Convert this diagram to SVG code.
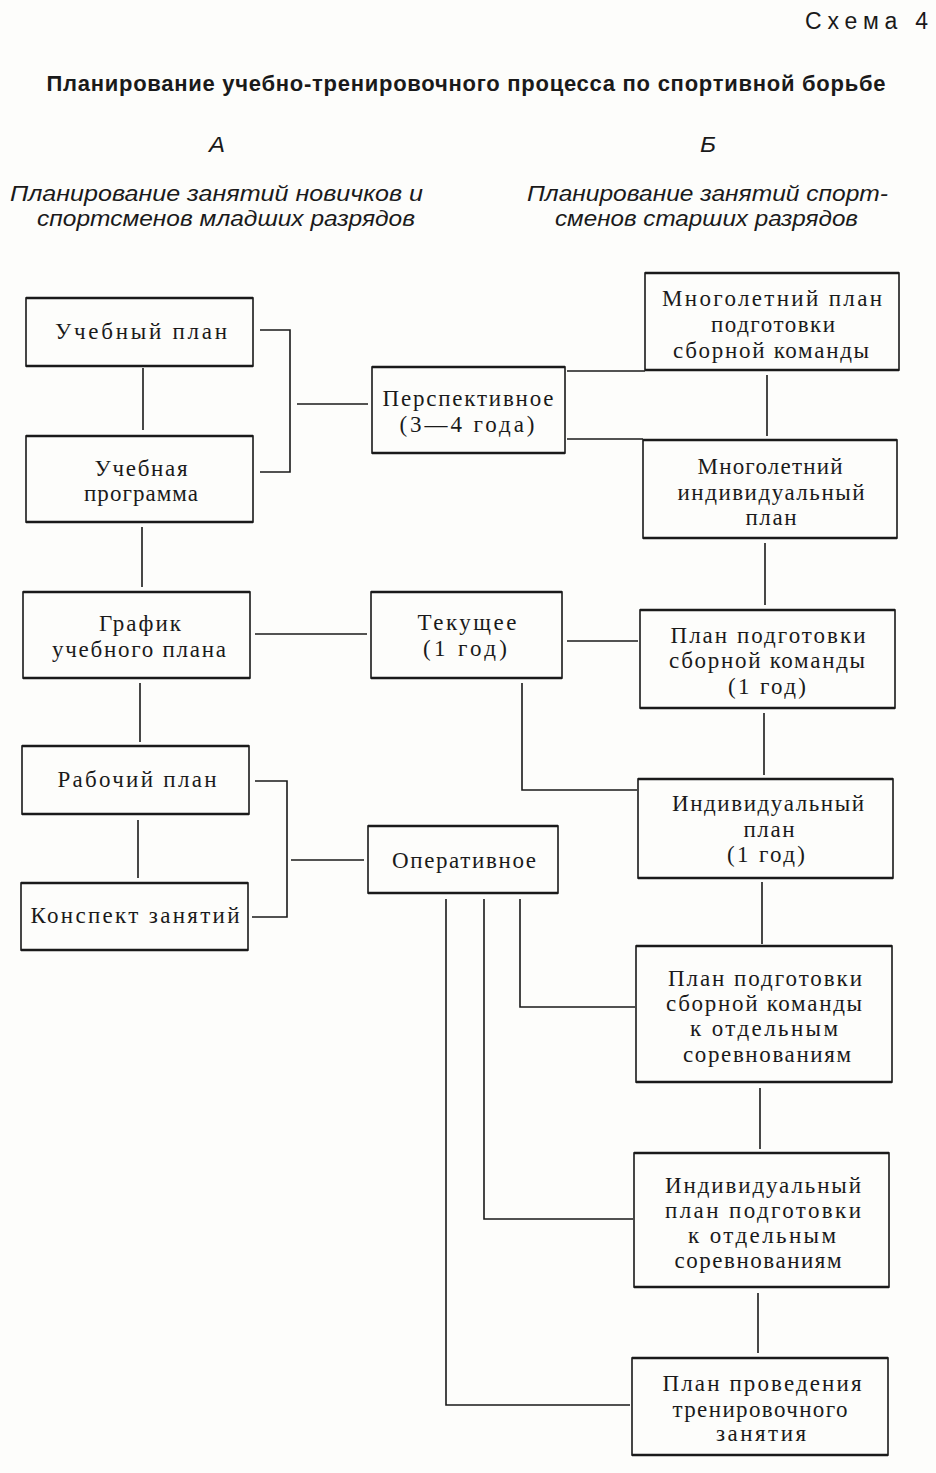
<svg xmlns="http://www.w3.org/2000/svg" width="936" height="1473" viewBox="0 0 936 1473">
<style>
.bg{fill:#fdfdfb}
.box{fill:none;stroke:#1a1a1a;stroke-width:1.6}
.edge{fill:none;stroke:#1a1a1a;stroke-width:2.4}
.con{fill:none;stroke:#1a1a1a;stroke-width:1.6}
.t{font-family:"Liberation Serif","DejaVu Serif",serif;font-size:23px;fill:#1a1a1a;text-anchor:middle}
.h{font-family:"Liberation Sans","DejaVu Sans",sans-serif;fill:#1a1a1a}
.it{font-family:"Liberation Sans","DejaVu Sans",sans-serif;font-style:italic;font-size:22px;fill:#1a1a1a}
</style>
<rect class="bg" x="0" y="0" width="936" height="1473"/>

<g id="header">
<text class="h" x="805" y="29" font-size="23" textLength="123" lengthAdjust="spacing">Схема 4</text>
<text class="h" x="466" y="91" font-size="22" font-weight="bold" text-anchor="middle" textLength="839" lengthAdjust="spacing">Планирование учебно-тренировочного процесса по спортивной борьбе</text>
<text class="it" x="209" y="152" font-size="24" textLength="16" lengthAdjust="spacingAndGlyphs">А</text>
<text class="it" x="700" y="152" font-size="24" textLength="16" lengthAdjust="spacingAndGlyphs">Б</text>
<text class="it" x="10" y="201" textLength="413" lengthAdjust="spacingAndGlyphs">Планирование занятий новичков и</text>
<text class="it" x="37" y="226" textLength="378" lengthAdjust="spacingAndGlyphs">спортсменов младших разрядов</text>
<text class="it" x="527" y="201" textLength="361" lengthAdjust="spacingAndGlyphs">Планирование занятий спорт-</text>
<text class="it" x="555" y="226" textLength="303" lengthAdjust="spacingAndGlyphs">сменов старших разрядов</text>
</g>

<g id="connectors">
<path class="con" d="M143,368 V430"/>
<path class="con" d="M142,527 V587"/>
<path class="con" d="M140,683 V742"/>
<path class="con" d="M138,820 V878"/>
<path class="con" d="M260,330 H290 V472 H260"/>
<path class="con" d="M297,404 H368"/>
<path class="con" d="M255,634 H367"/>
<path class="con" d="M567,371 H645"/>
<path class="con" d="M767,375 V436"/>
<path class="con" d="M567,439 H643"/>
<path class="con" d="M765,543 V605"/>
<path class="con" d="M567,641 H638"/>
<path class="con" d="M764,713 V775"/>
<path class="con" d="M522,683 V790 H637"/>
<path class="con" d="M762,882 V944"/>
<path class="con" d="M255,781 H287 V917 H252"/>
<path class="con" d="M291,860 H364"/>
<path class="con" d="M520,899 V1007 H635"/>
<path class="con" d="M484,899 V1219 H633"/>
<path class="con" d="M446,899 V1405 H630"/>
<path class="con" d="M760,1088 V1149"/>
<path class="con" d="M758,1293 V1353"/>
</g>

<g id="n-uchebny-plan">
<rect class="box" x="26" y="298" width="227" height="68"/>
<path class="edge" d="M26,298 H253 M26,366 H253"/>
<text class="t" x="141" y="339" textLength="172" lengthAdjust="spacing">Учебный  план</text>
</g>
<g id="n-uchebnaya-programma">
<rect class="box" x="26" y="436" width="227" height="86"/>
<path class="edge" d="M26,436 H253 M26,522 H253"/>
<text class="t" x="141" y="476" textLength="93" lengthAdjust="spacing">Учебная</text>
<text class="t" x="141" y="501" textLength="114" lengthAdjust="spacing">программа</text>
</g>
<g id="n-grafik">
<rect class="box" x="23" y="592" width="227" height="86"/>
<path class="edge" d="M23,592 H250 M23,678 H250"/>
<text class="t" x="140" y="631" textLength="82" lengthAdjust="spacing">График</text>
<text class="t" x="139" y="657" textLength="174" lengthAdjust="spacing">учебного  плана</text>
</g>
<g id="n-rabochy-plan">
<rect class="box" x="22" y="746" width="227" height="68"/>
<path class="edge" d="M22,746 H249 M22,814 H249"/>
<text class="t" x="137" y="787" textLength="159" lengthAdjust="spacing">Рабочий  план</text>
</g>
<g id="n-konspekt">
<rect class="box" x="21" y="883" width="227" height="67"/>
<path class="edge" d="M21,883 H248 M21,950 H248"/>
<text class="t" x="135" y="923" textLength="209" lengthAdjust="spacing">Конспект  занятий</text>
</g>

<g id="n-perspektivnoe">
<rect class="box" x="372" y="367" width="193" height="86"/>
<path class="edge" d="M372,367 H565 M372,453 H565"/>
<text class="t" x="468" y="406" textLength="171" lengthAdjust="spacing">Перспективное</text>
<text class="t" x="467" y="432" textLength="135" lengthAdjust="spacing">(3—4  года)</text>
</g>
<g id="n-tekushchee">
<rect class="box" x="371" y="592" width="191" height="86"/>
<path class="edge" d="M371,592 H562 M371,678 H562"/>
<text class="t" x="467" y="630" textLength="99" lengthAdjust="spacing">Текущее</text>
<text class="t" x="465" y="656" textLength="84" lengthAdjust="spacing">(1  год)</text>
</g>
<g id="n-operativnoe">
<rect class="box" x="368" y="826" width="190" height="67"/>
<path class="edge" d="M368,826 H558 M368,893 H558"/>
<text class="t" x="464" y="868" textLength="144" lengthAdjust="spacing">Оперативное</text>
</g>

<g id="n-mnogoletny-plan">
<rect class="box" x="645" y="273" width="254" height="97"/>
<path class="edge" d="M645,273 H899 M645,370 H899"/>
<text class="t" x="772" y="306" textLength="220" lengthAdjust="spacing">Многолетний  план</text>
<text class="t" x="773" y="332" textLength="124" lengthAdjust="spacing">подготовки</text>
<text class="t" x="771" y="358" textLength="196" lengthAdjust="spacing">сборной  команды</text>
</g>
<g id="n-mnogoletny-individ">
<rect class="box" x="643" y="440" width="254" height="98"/>
<path class="edge" d="M643,440 H897 M643,538 H897"/>
<text class="t" x="770" y="474" textLength="145" lengthAdjust="spacing">Многолетний</text>
<text class="t" x="771" y="500" textLength="187" lengthAdjust="spacing">индивидуальный</text>
<text class="t" x="771" y="525" textLength="51" lengthAdjust="spacing">план</text>
</g>
<g id="n-plan-sbornoy-god">
<rect class="box" x="640" y="610" width="255" height="98"/>
<path class="edge" d="M640,610 H895 M640,708 H895"/>
<text class="t" x="768" y="643" textLength="195" lengthAdjust="spacing">План  подготовки</text>
<text class="t" x="767" y="668" textLength="196" lengthAdjust="spacing">сборной  команды</text>
<text class="t" x="767" y="694" textLength="78" lengthAdjust="spacing">(1  год)</text>
</g>
<g id="n-individ-god">
<rect class="box" x="638" y="779" width="255" height="99"/>
<path class="edge" d="M638,779 H893 M638,878 H893"/>
<text class="t" x="768" y="811" textLength="192" lengthAdjust="spacing">Индивидуальный</text>
<text class="t" x="769" y="837" textLength="51" lengthAdjust="spacing">план</text>
<text class="t" x="766" y="862" textLength="78" lengthAdjust="spacing">(1  год)</text>
</g>
<g id="n-plan-sbornoy-sorev">
<rect class="box" x="636" y="946" width="256" height="136"/>
<path class="edge" d="M636,946 H892 M636,1082 H892"/>
<text class="t" x="765" y="986" textLength="194" lengthAdjust="spacing">План  подготовки</text>
<text class="t" x="764" y="1011" textLength="196" lengthAdjust="spacing">сборной  команды</text>
<text class="t" x="764" y="1036" textLength="148" lengthAdjust="spacing">к  отдельным</text>
<text class="t" x="767" y="1062" textLength="168" lengthAdjust="spacing">соревнованиям</text>
</g>
<g id="n-individ-sorev">
<rect class="box" x="634" y="1153" width="255" height="134"/>
<path class="edge" d="M634,1153 H889 M634,1287 H889"/>
<text class="t" x="763" y="1193" textLength="196" lengthAdjust="spacing">Индивидуальный</text>
<text class="t" x="763" y="1218" textLength="196" lengthAdjust="spacing">план  подготовки</text>
<text class="t" x="762" y="1243" textLength="148" lengthAdjust="spacing">к  отдельным</text>
<text class="t" x="758" y="1268" textLength="167" lengthAdjust="spacing">соревнованиям</text>
</g>
<g id="n-plan-provedeniya">
<rect class="box" x="632" y="1358" width="256" height="97"/>
<path class="edge" d="M632,1358 H888 M632,1455 H888"/>
<text class="t" x="762" y="1391" textLength="199" lengthAdjust="spacing">План  проведения</text>
<text class="t" x="760" y="1417" textLength="175" lengthAdjust="spacing">тренировочного</text>
<text class="t" x="761" y="1441" textLength="90" lengthAdjust="spacing">занятия</text>
</g>
</svg>
